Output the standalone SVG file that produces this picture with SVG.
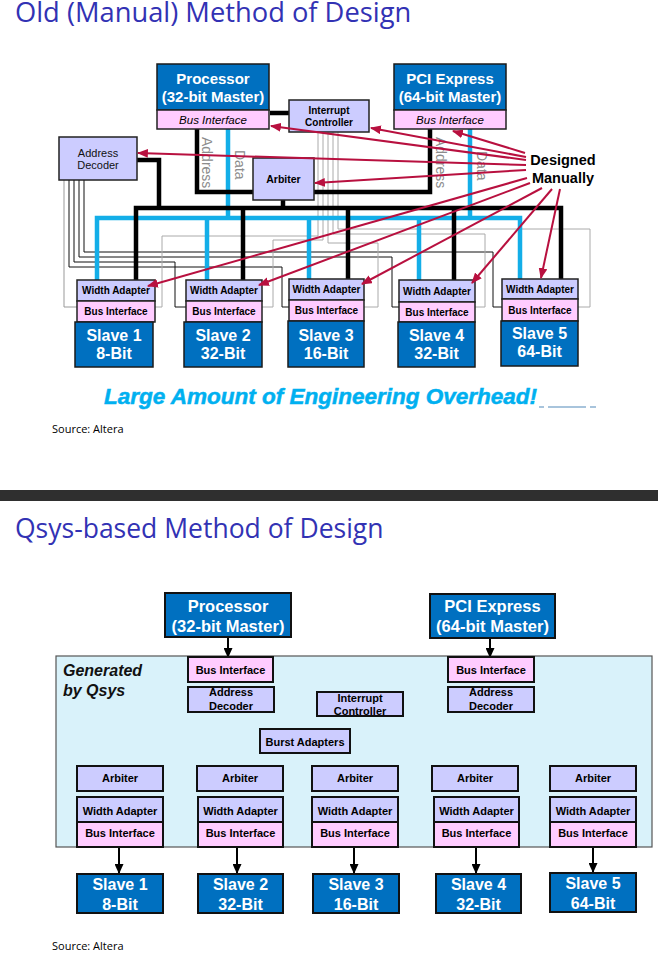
<svg xmlns="http://www.w3.org/2000/svg" width="658" height="959" viewBox="0 0 658 959">
<defs>
<style>
.t{font-family:"Liberation Sans",Arial,sans-serif}
.title{font-family:"Open Sans","Noto Sans",sans-serif;fill:#3232b4}
.src{font-family:"Open Sans","Noto Sans",sans-serif;font-size:11px;fill:#000}
.blue{fill:#0070c0;stroke:#1a1a1a;stroke-width:1.5}
.lav{fill:#ccccff;stroke:#222;stroke-width:1.5}
.pink{fill:#ffccff;stroke:#222;stroke-width:1.5}
.lav2{fill:#ccccff;stroke:#111;stroke-width:2}
.pink2{fill:#ffccff;stroke:#111;stroke-width:2}
.blue2{fill:#0070c0;stroke:#111;stroke-width:2}
.wt{fill:#fff;font-weight:bold;text-anchor:middle}
.bt{fill:#000;font-weight:bold;text-anchor:middle}
.vt{font-size:14px;fill:#8c8c8c}
.bus{fill:none;stroke:#000;stroke-width:4.5}
.data{fill:none;stroke:#13aee8;stroke-width:4.5}
.cs{fill:none;stroke:#111;stroke-width:1}
.irq{fill:none;stroke:#aaa;stroke-width:1}
.red{stroke:#b8103f;stroke-width:2;marker-end:url(#ra)}
.arr{stroke:#000;stroke-width:2;marker-end:url(#ka)}
</style>
<marker id="ra" viewBox="0 0 10 8" refX="9" refY="4" markerWidth="11" markerHeight="9" markerUnits="userSpaceOnUse" orient="auto"><path d="M0,0 L10,4 L0,8 z" fill="#b8103f"/></marker>
<marker id="ka" viewBox="0 0 10 9" refX="9" refY="4.5" markerWidth="10" markerHeight="9" markerUnits="userSpaceOnUse" orient="auto"><path d="M0,0 L10,4.5 L0,9 z" fill="#000"/></marker>
</defs>
<rect width="658" height="959" fill="#fff"/>

<text class="title" x="15" y="22" font-size="27.3">Old (Manual) Method of Design</text>

<g id="connectors-top">
<polyline class="cs" style="stroke:#999" points="64,180 64,307 77,307"/>
<polyline class="cs" points="69,180 69,267 282,267 282,307 289,307"/>
<polyline class="cs" points="74,180 74,262 175,262 175,307 186,307"/>
<polyline class="cs" points="79,180 79,257 392,257 392,307 399,307"/>
<polyline class="cs" points="84,180 84,252 493,252 493,307 502,307"/>
<polyline class="irq" points="318,132 318,236 162,236 162,307 155,307"/>
<polyline class="irq" points="323,132 323,240 273,240 273,307 262,307"/>
<polyline class="irq" points="328,132 328,243 378,243 378,307 364,307"/>
<polyline class="irq" points="333,132 333,234 485,234 485,307 475,307"/>
<polyline class="irq" points="338,132 338,229 590,229 590,307 578,307"/>
<polyline class="data" points="228,129 228,218"/>
<polyline class="data" points="470,129 470,218"/>
<polyline class="data" points="97,280 97,218 520,218 520,280"/>
<line class="data" x1="207" y1="218" x2="207" y2="280"/>
<line class="data" x1="309" y1="218" x2="309" y2="280"/>
<line class="data" x1="419" y1="218" x2="419" y2="280"/>
<polyline class="bus" points="197,129 197,192 430,192 430,129"/>
<line class="bus" x1="270" y1="113" x2="289" y2="113"/>
<polyline class="bus" points="137,160 159,160 159,208"/>
<line class="bus" x1="283" y1="200" x2="283" y2="208"/>
<polyline class="bus" points="136,280 136,208 561,208 561,280"/>
<line class="bus" x1="243" y1="208" x2="243" y2="280"/>
<line class="bus" x1="348" y1="208" x2="348" y2="280"/>
<line class="bus" x1="454" y1="208" x2="454" y2="280"/>
<text class="t vt" transform="translate(202,137) rotate(90)">Address</text>
<text class="t vt" transform="translate(235,150) rotate(90)">Data</text>
<text class="t vt" transform="translate(436,137) rotate(90)">Address</text>
<text class="t vt" transform="translate(477,151) rotate(90)">Data</text>
</g>

<g id="processor-top">
<rect class="blue" x="157" y="64" width="112" height="46"/>
<rect class="pink" x="157" y="110" width="112" height="19"/>
<text class="t wt" x="213" y="84" font-size="15">Processor</text>
<text class="t wt" x="213" y="102" font-size="15">(32-bit Master)</text>
<text class="t" x="213" y="124" font-size="11.5" font-style="italic" text-anchor="middle">Bus Interface</text>
</g>
<g id="pci-top">
<rect class="blue" x="394" y="64" width="112" height="46"/>
<rect class="pink" x="394" y="110" width="112" height="19"/>
<text class="t wt" x="450" y="84" font-size="15">PCI Express</text>
<text class="t wt" x="450" y="102" font-size="15">(64-bit Master)</text>
<text class="t" x="450" y="124" font-size="11.5" font-style="italic" text-anchor="middle">Bus Interface</text>
</g>
<g id="irq-top">
<rect class="lav" x="289" y="100" width="80" height="32"/>
<text class="t bt" x="329" y="114" font-size="10">Interrupt</text>
<text class="t bt" x="329" y="126" font-size="10">Controller</text>
</g>
<g id="addrdec-top">
<rect class="lav" x="59" y="137" width="78" height="43"/>
<text class="t" x="98" y="157" font-size="11" text-anchor="middle" fill="#111">Address</text>
<text class="t" x="98" y="169" font-size="11" text-anchor="middle" fill="#111">Decoder</text>
</g>
<g id="arbiter-top">
<rect class="lav" x="253" y="158" width="61" height="42"/>
<text class="t bt" x="283.5" y="183" font-size="10.5">Arbiter</text>
</g>

<g id="slave1-top">
<rect class="lav" x="77" y="280" width="78" height="21"/>
<rect class="pink" x="77" y="301" width="78" height="21"/>
<rect class="blue" x="75" y="322" width="78" height="45"/>
<text class="t bt" x="116" y="294" font-size="10">Width Adapter</text>
<text class="t bt" x="116" y="315" font-size="10">Bus Interface</text>
<text class="t wt" x="114" y="341" font-size="16">Slave 1</text>
<text class="t wt" x="114" y="359" font-size="16">8-Bit</text>
</g>
<g id="slave2-top">
<rect class="lav" x="186" y="280" width="76" height="21"/>
<rect class="pink" x="186" y="301" width="76" height="21"/>
<rect class="blue" x="184" y="322" width="78" height="45"/>
<text class="t bt" x="224" y="294" font-size="10">Width Adapter</text>
<text class="t bt" x="224" y="315" font-size="10">Bus Interface</text>
<text class="t wt" x="223" y="341" font-size="16">Slave 2</text>
<text class="t wt" x="223" y="359" font-size="16">32-Bit</text>
</g>
<g id="slave3-top">
<rect class="lav" x="289" y="279" width="75" height="21"/>
<rect class="pink" x="289" y="300" width="75" height="21"/>
<rect class="blue" x="288" y="321" width="76" height="46"/>
<text class="t bt" x="326.5" y="293" font-size="10">Width Adapter</text>
<text class="t bt" x="326.5" y="314" font-size="10">Bus Interface</text>
<text class="t wt" x="326" y="341" font-size="16">Slave 3</text>
<text class="t wt" x="326" y="359" font-size="16">16-Bit</text>
</g>
<g id="slave4-top">
<rect class="lav" x="399" y="280" width="76" height="22"/>
<rect class="pink" x="399" y="302" width="76" height="20"/>
<rect class="blue" x="398" y="322" width="77" height="45"/>
<text class="t bt" x="437" y="295" font-size="10">Width Adapter</text>
<text class="t bt" x="437" y="316" font-size="10">Bus Interface</text>
<text class="t wt" x="436.5" y="341" font-size="16">Slave 4</text>
<text class="t wt" x="436.5" y="359" font-size="16">32-Bit</text>
</g>
<g id="slave5-top">
<rect class="lav" x="502" y="279" width="76" height="20"/>
<rect class="pink" x="502" y="299" width="76" height="22"/>
<rect class="blue" x="501" y="321" width="77" height="45"/>
<text class="t bt" x="540" y="293" font-size="10">Width Adapter</text>
<text class="t bt" x="540" y="314" font-size="10">Bus Interface</text>
<text class="t wt" x="539.5" y="339" font-size="16">Slave 5</text>
<text class="t wt" x="539.5" y="357" font-size="16">64-Bit</text>
</g>

<g id="designed-manually">
<text class="t" x="563" y="165" font-size="14.5" font-weight="bold" text-anchor="middle">Designed</text>
<text class="t" x="563" y="183" font-size="14.5" font-weight="bold" text-anchor="middle">Manually</text>
</g>
<g id="red-arrows">
<line class="red" x1="525" y1="153" x2="453" y2="131"/>
<line class="red" x1="526" y1="157" x2="371" y2="128"/>
<line class="red" x1="526" y1="160" x2="271" y2="126"/>
<line class="red" x1="526" y1="165" x2="138" y2="153"/>
<line class="red" x1="526" y1="170" x2="315" y2="183"/>
<line class="red" x1="527" y1="178" x2="148" y2="286"/>
<line class="red" x1="530" y1="183" x2="259" y2="285"/>
<line class="red" x1="542" y1="188" x2="362" y2="284"/>
<line class="red" x1="552" y1="189" x2="472" y2="283"/>
<line class="red" x1="560" y1="189" x2="541" y2="278"/>
</g>

<text class="t" x="104" y="404" font-size="22.5" font-weight="bold" font-style="italic" fill="#00b0f0" stroke="#00b0f0" stroke-width="0.5">Large Amount of Engineering Overhead!</text>
<g stroke="#a8c4dc" stroke-width="2">
<line x1="539" y1="407" x2="544" y2="407"/>
<line x1="548" y1="407" x2="586" y2="407"/>
<line x1="590" y1="407" x2="596" y2="407"/>
</g>
<text class="src" x="52" y="433">Source: Altera</text>

<rect x="0" y="490" width="658" height="11" fill="#2f2f2f"/>

<text class="title" x="15" y="538" font-size="26.5">Qsys-based Method of Design</text>

<g id="qsys-container">
<rect x="56" y="656" width="596" height="191" fill="#d9f2fa" stroke="#555" stroke-width="1.2"/>
<text class="t" x="63" y="676" font-size="16" font-weight="bold" font-style="italic" fill="#111">Generated</text>
<text class="t" x="63" y="696" font-size="16" font-weight="bold" font-style="italic" fill="#111">by Qsys</text>
</g>

<g id="connectors-bottom">
<line class="arr" x1="228" y1="638" x2="228" y2="657"/>
<line class="arr" x1="490" y1="638" x2="490" y2="657"/>
<line class="arr" x1="119" y1="847" x2="119" y2="873"/>
<line class="arr" x1="237" y1="847" x2="237" y2="873"/>
<line class="arr" x1="354" y1="847" x2="354" y2="873"/>
<line class="arr" x1="476" y1="847" x2="476" y2="873"/>
<line class="arr" x1="593" y1="847" x2="593" y2="872"/>
</g>

<g id="processor-bottom">
<rect class="blue2" x="165" y="593" width="126" height="44"/>
<text class="t wt" x="228" y="612" font-size="16.5">Processor</text>
<text class="t wt" x="228" y="632" font-size="16.5">(32-bit Master)</text>
</g>
<g id="pci-bottom">
<rect class="blue2" x="430" y="594" width="125" height="44"/>
<text class="t wt" x="492.5" y="612" font-size="16.5">PCI Express</text>
<text class="t wt" x="492.5" y="632" font-size="16.5">(64-bit Master)</text>
</g>
<g id="busif-proc-bottom">
<rect class="pink2" x="188" y="657" width="85" height="25"/>
<text class="t bt" x="230.5" y="674" font-size="11">Bus Interface</text>
</g>
<g id="addrdec-proc-bottom">
<rect class="lav2" x="188" y="687" width="86" height="25"/>
<text class="t bt" x="231" y="696" font-size="11">Address</text>
<text class="t bt" x="231" y="709.5" font-size="11">Decoder</text>
</g>
<g id="busif-pci-bottom">
<rect class="pink2" x="448" y="657" width="86" height="25"/>
<text class="t bt" x="491" y="674" font-size="11">Bus Interface</text>
</g>
<g id="addrdec-pci-bottom">
<rect class="lav2" x="448" y="687" width="86" height="25"/>
<text class="t bt" x="491" y="696" font-size="11">Address</text>
<text class="t bt" x="491" y="709.5" font-size="11">Decoder</text>
</g>
<g id="irq-bottom">
<rect class="lav2" x="317" y="692" width="86" height="24"/>
<text class="t bt" x="360" y="702" font-size="11">Interrupt</text>
<text class="t bt" x="360" y="715" font-size="11">Controller</text>
</g>
<g id="burst-bottom">
<rect class="lav2" x="260" y="729" width="90" height="24"/>
<text class="t bt" x="305" y="746" font-size="11">Burst Adapters</text>
</g>

<g id="slave1-bottom">
<rect class="lav2" x="77" y="766" width="86" height="25"/>
<text class="t bt" x="120" y="782" font-size="11">Arbiter</text>
<rect class="lav2" x="77" y="797" width="86" height="25"/>
<rect class="pink2" x="77" y="822" width="86" height="25"/>
<text class="t bt" x="120" y="815" font-size="11">Width Adapter</text>
<text class="t bt" x="120" y="837" font-size="11">Bus Interface</text>
<rect class="blue2" x="77" y="874" width="86" height="39"/>
<text class="t wt" x="120" y="890" font-size="16">Slave 1</text>
<text class="t wt" x="120" y="910" font-size="16">8-Bit</text>
</g>
<g id="slave2-bottom">
<rect class="lav2" x="197" y="766" width="86" height="25"/>
<text class="t bt" x="240" y="782" font-size="11">Arbiter</text>
<rect class="lav2" x="198" y="797" width="85" height="25"/>
<rect class="pink2" x="198" y="822" width="85" height="25"/>
<text class="t bt" x="240.5" y="815" font-size="11">Width Adapter</text>
<text class="t bt" x="240.5" y="837" font-size="11">Bus Interface</text>
<rect class="blue2" x="198" y="874" width="85" height="39"/>
<text class="t wt" x="240.5" y="890" font-size="16">Slave 2</text>
<text class="t wt" x="240.5" y="910" font-size="16">32-Bit</text>
</g>
<g id="slave3-bottom">
<rect class="lav2" x="312" y="766" width="86" height="25"/>
<text class="t bt" x="355" y="782" font-size="11">Arbiter</text>
<rect class="lav2" x="312" y="797" width="86" height="25"/>
<rect class="pink2" x="312" y="822" width="86" height="25"/>
<text class="t bt" x="355" y="815" font-size="11">Width Adapter</text>
<text class="t bt" x="355" y="837" font-size="11">Bus Interface</text>
<rect class="blue2" x="313" y="874" width="86" height="39"/>
<text class="t wt" x="356" y="890" font-size="16">Slave 3</text>
<text class="t wt" x="356" y="910" font-size="16">16-Bit</text>
</g>
<g id="slave4-bottom">
<rect class="lav2" x="432" y="766" width="86" height="25"/>
<text class="t bt" x="475" y="782" font-size="11">Arbiter</text>
<rect class="lav2" x="434" y="797" width="85" height="25"/>
<rect class="pink2" x="434" y="822" width="85" height="25"/>
<text class="t bt" x="476.5" y="815" font-size="11">Width Adapter</text>
<text class="t bt" x="476.5" y="837" font-size="11">Bus Interface</text>
<rect class="blue2" x="436" y="874" width="85" height="39"/>
<text class="t wt" x="478.5" y="890" font-size="16">Slave 4</text>
<text class="t wt" x="478.5" y="910" font-size="16">32-Bit</text>
</g>
<g id="slave5-bottom">
<rect class="lav2" x="550" y="766" width="86" height="25"/>
<text class="t bt" x="593" y="782" font-size="11">Arbiter</text>
<rect class="lav2" x="550" y="797" width="86" height="25"/>
<rect class="pink2" x="550" y="822" width="86" height="25"/>
<text class="t bt" x="593" y="815" font-size="11">Width Adapter</text>
<text class="t bt" x="593" y="837" font-size="11">Bus Interface</text>
<rect class="blue2" x="550" y="873" width="86" height="39"/>
<text class="t wt" x="593" y="889" font-size="16">Slave 5</text>
<text class="t wt" x="593" y="909" font-size="16">64-Bit</text>
</g>

<text class="src" x="52" y="950">Source: Altera</text>
</svg>
